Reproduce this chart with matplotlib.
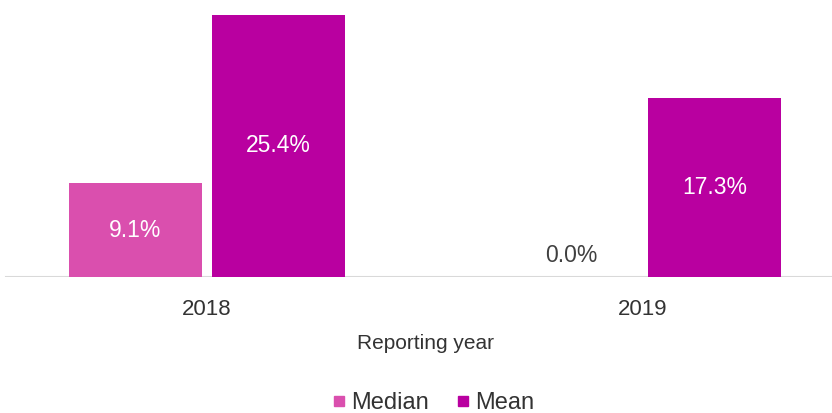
import matplotlib.pyplot as plt
from matplotlib.lines import Line2D
import numpy as np

plt.rcParams['font.family'] = ['Liberation Sans', 'DejaVu Sans']

years = ['2018', '2019']
median = [9.1, 0.0]
mean = [25.4, 17.3]

MEDIAN_COLOR = '#DA4FAE'
MEAN_COLOR = '#B900A0'
TEXT_COLOR = '#333333'

W, H = 832, 413
fig = plt.figure(figsize=(W / 100, H / 100), dpi=100)
# axes run a bit past the left/right edges, like the cropped original
ax = fig.add_axes([-11 / W, (H - 277) / H, 872 / W, 267 / H])

x = np.arange(len(years))
bw = 0.305
off = 0.164
b1 = ax.bar(x - off, median, bw, color=MEDIAN_COLOR, label='Median')
b2 = ax.bar(x + off, mean, bw, color=MEAN_COLOR, label='Mean')

ax.set_xlim(-0.5, 1.5)
ax.set_ylim(0, 25.87)

for bars in (b1, b2):
    for b in bars:
        v = b.get_height()
        cx = b.get_x() + b.get_width() / 2
        if v > 2:
            ax.text(cx, v / 2, f'{v:.1f}%', ha='center', va='center',
                    color='white', fontsize=16.5)
        else:
            ax.text(cx, v + 1.0, f'{v:.1f}%', ha='center', va='bottom',
                    color='#404040', fontsize=16.5)

for s in ax.spines.values():
    s.set_visible(False)
ax.axhline(0, xmin=17 / 872, xmax=1, color='#d9d9d9', lw=1.5, zorder=0)
ax.set_yticks([])
ax.set_xticks(x)
ax.set_xticklabels(years, fontsize=16, color=TEXT_COLOR)
ax.tick_params(axis='x', length=0, pad=16)
ax.set_xlabel('Reporting year', fontsize=15, color=TEXT_COLOR, labelpad=10)

handles = [Line2D([], [], marker='s', ls='', color=MEDIAN_COLOR, markersize=7.5),
           Line2D([], [], marker='s', ls='', color=MEAN_COLOR, markersize=7.5)]
fig.legend(handles, ['Median', 'Mean'], loc='center', bbox_to_anchor=(434 / W, 10 / H),
           ncol=2, frameon=False, fontsize=17, handlelength=0.45, handletextpad=0.3,
           columnspacing=1.2, labelcolor=TEXT_COLOR)

fig.savefig('out.png', dpi=100)
